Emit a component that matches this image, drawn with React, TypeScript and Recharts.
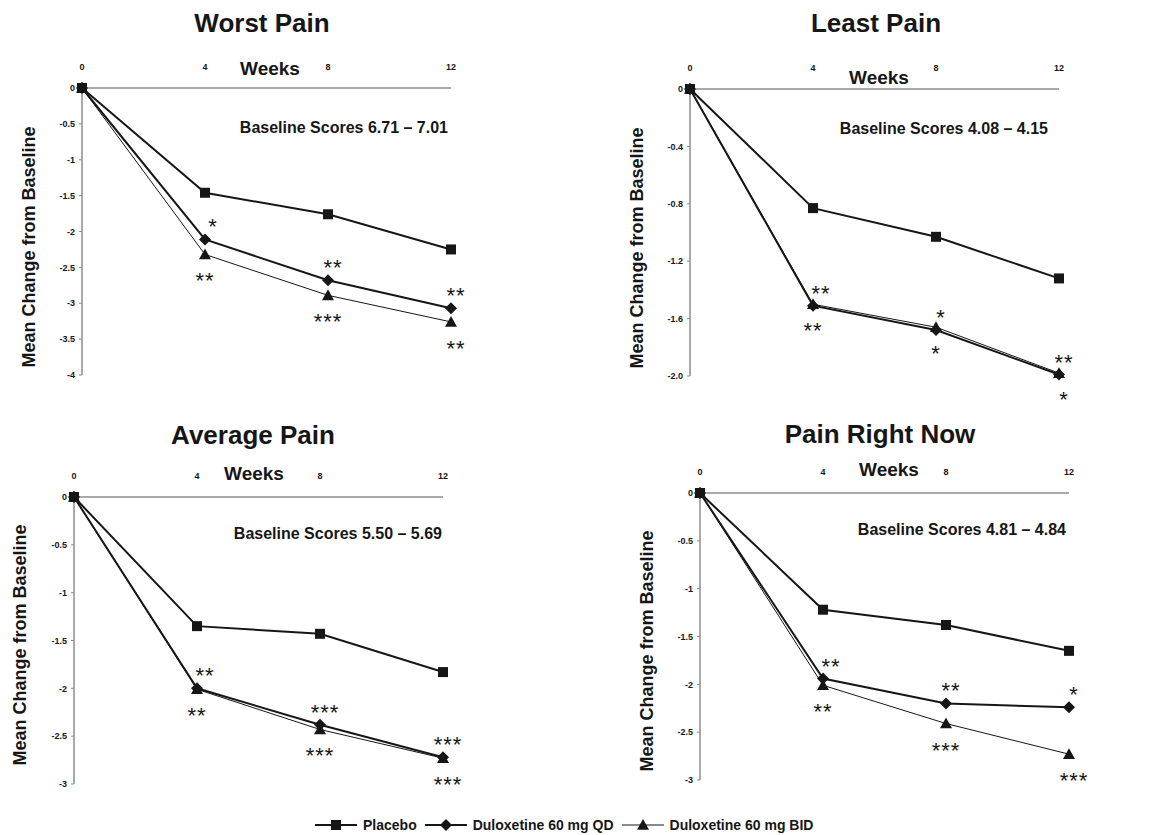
import { LineChart, Line, XAxis, YAxis } from 'recharts';

const weeks = [0, 4, 8, 12];

const worstPlacebo = [0, -1.46, -1.76, -2.25];
const worstQd = [0, -2.11, -2.68, -3.07];
const worstBid = [0, -2.32, -2.89, -3.26];
const worstQdStars = ['', '*', '**', '**'];
const worstBidStars = ['', '**', '***', '**'];
const worstTicks = [0, -0.5, -1, -1.5, -2, -2.5, -3, -3.5, -4];

const leastPlacebo = [0, -0.83, -1.03, -1.32];
const leastQd = [0, -1.51, -1.68, -1.99];
const leastBid = [0, -1.5, -1.66, -1.98];
const leastQdStars = ['', '**', '*', '**'];
const leastBidStars = ['', '**', '*', '*'];
const leastTicks = [0, -0.4, -0.8, -1.2, -1.6, -2.0];

const averagePlacebo = [0, -1.35, -1.43, -1.83];
const averageQd = [0, -2.0, -2.38, -2.72];
const averageBid = [0, -2.01, -2.43, -2.73];
const averageQdStars = ['', '**', '***', '***'];
const averageBidStars = ['', '**', '***', '***'];
const averageTicks = [0, -0.5, -1, -1.5, -2, -2.5, -3];

const nowPlacebo = [0, -1.22, -1.38, -1.65];
const nowQd = [0, -1.94, -2.2, -2.24];
const nowBid = [0, -2.01, -2.41, -2.73];
const nowQdStars = ['', '**', '**', '*'];
const nowBidStars = ['', '**', '***', '***'];
const nowTicks = [0, -0.5, -1, -1.5, -2, -2.5, -3];

const seriesNames = ['Placebo', 'Duloxetine 60 mg QD', 'Duloxetine 60 mg BID'];

const panels = [
  { title: 'Worst Pain', baseline: 'Baseline Scores 6.71 \u2013 7.01', placebo: worstPlacebo, qd: worstQd, bid: worstBid, qdStars: worstQdStars, bidStars: worstBidStars, ticks: worstTicks, oneDecimal: false },
  { title: 'Least Pain', baseline: 'Baseline Scores 4.08 \u2013 4.15', placebo: leastPlacebo, qd: leastQd, bid: leastBid, qdStars: leastQdStars, bidStars: leastBidStars, ticks: leastTicks, oneDecimal: true },
  { title: 'Average Pain', baseline: 'Baseline Scores 5.50 \u2013 5.69', placebo: averagePlacebo, qd: averageQd, bid: averageBid, qdStars: averageQdStars, bidStars: averageBidStars, ticks: averageTicks, oneDecimal: false },
  { title: 'Pain Right Now', baseline: 'Baseline Scores 4.81 \u2013 4.84', placebo: nowPlacebo, qd: nowQd, bid: nowBid, qdStars: nowQdStars, bidStars: nowBidStars, ticks: nowTicks, oneDecimal: false },
];

// plot origin + text anchors, page pixels
const layout = [
  { px: 82, py: 88, title: [262, 23], weeks: [270, 68], base: [448, 128], ylab: [29, 247] },
  { px: 690, py: 89, title: [876, 23], weeks: [879, 77], base: [1048, 129], ylab: [637, 248] },
  { px: 74, py: 497, title: [253, 435], weeks: [254, 473], base: [442, 534], ylab: [20, 645] },
  { px: 700, py: 493, title: [880, 434], weeks: [889, 469], base: [1066, 530], ylab: [647, 651] },
];

const INK = '#161616';
const AXIS = '#8c8c8c';
const FONT = '"Liberation Sans", Arial, sans-serif';
const PLOT_W = 369;
const PLOT_H = 287;
const starDx = [0, 8, 5, 5];

function Square({ cx, cy, s = 10 }: { cx: number; cy: number; s?: number }) {
  return <rect x={cx - s / 2} y={cy - s / 2} width={s} height={s} fill={INK} />;
}

function Diamond({ cx, cy, r = 6 }: { cx: number; cy: number; r?: number }) {
  return <polygon points={`${cx},${cy - r} ${cx + r},${cy} ${cx},${cy + r} ${cx - r},${cy}`} fill={INK} />;
}

function Triangle({ cx, cy, r = 6 }: { cx: number; cy: number; r?: number }) {
  return <polygon points={`${cx},${cy - r} ${cx + r},${cy + r * 0.8} ${cx - r},${cy + r * 0.8}`} fill={INK} />;
}

function Stars({ x, y, text }: { x: number; y: number; text: string }) {
  if (!text) return null;
  return (
    <text x={x} y={y + 12} textAnchor="middle" fontFamily={FONT} fontSize={22} letterSpacing={1} fill={INK}>
      {text}
    </text>
  );
}

function Panel({ panel, pos }: { panel: (typeof panels)[number]; pos: (typeof layout)[number] }) {
  const data = weeks.map((w, i) => ({
    week: w,
    placebo: panel.placebo[i],
    qd: panel.qd[i],
    bid: panel.bid[i],
    qdStars: panel.qdStars[i],
    bidStars: panel.bidStars[i],
  }));
  const lo = panel.ticks[panel.ticks.length - 1];
  const fmt = (v: number) => (v === 0 ? '0' : panel.oneDecimal ? v.toFixed(1) : String(v));
  const tickStyle = { fill: INK, fontSize: 9, fontWeight: 700, fontFamily: FONT };

  return (
    <div style={{ position: 'absolute', left: pos.px - 60, top: pos.py - 30 }}>
      <LineChart width={PLOT_W + 100} height={PLOT_H + 80} data={data} margin={{ top: 10, right: 40, bottom: 50, left: 20 }}>
        <XAxis
          type="number"
          dataKey="week"
          orientation="top"
          domain={[0, 12]}
          ticks={weeks}
          height={20}
          axisLine={{ stroke: AXIS, strokeWidth: 1.5 }}
          tickLine={false}
          tickMargin={12}
          tick={tickStyle}
        />
        <YAxis
          type="number"
          domain={[lo, 0]}
          ticks={panel.ticks}
          width={40}
          tickFormatter={fmt}
          axisLine={{ stroke: AXIS, strokeWidth: 1.5 }}
          tickLine={{ stroke: AXIS }}
          tickSize={3}
          tickMargin={4}
          tick={tickStyle}
        />
        <Line
          dataKey="bid"
          stroke={INK}
          strokeWidth={1}
          isAnimationActive={false}
          dot={(p: any) => (
            <g key={`b${p.index}`}>
              <Triangle cx={p.cx} cy={p.cy} />
              <Stars x={p.cx + (p.index === 3 ? 5 : 0)} y={p.cy + 22} text={p.payload.bidStars} />
            </g>
          )}
        />
        <Line
          dataKey="qd"
          stroke={INK}
          strokeWidth={2}
          isAnimationActive={false}
          dot={(p: any) => (
            <g key={`q${p.index}`}>
              <Diamond cx={p.cx} cy={p.cy} />
              <Stars x={p.cx + starDx[p.index]} y={p.cy - 17} text={p.payload.qdStars} />
            </g>
          )}
        />
        <Line
          dataKey="placebo"
          stroke={INK}
          strokeWidth={2}
          isAnimationActive={false}
          dot={(p: any) => <Square key={`p${p.index}`} cx={p.cx} cy={p.cy} />}
        />
      </LineChart>
    </div>
  );
}

function Txt({ at, size, children, anchor = 'center', rotate = false }: { at: number[]; size: number; children: string; anchor?: 'center' | 'right'; rotate?: boolean }) {
  const tx = anchor === 'right' ? '-100%' : '-50%';
  return (
    <div
      style={{
        position: 'absolute',
        left: at[0],
        top: at[1],
        transform: `translate(${tx}, -50%)${rotate ? ' rotate(-90deg)' : ''}`,
        fontSize: size,
        fontWeight: 700,
        lineHeight: 1,
        whiteSpace: 'nowrap',
        color: INK,
      }}
    >
      {children}
    </div>
  );
}

const legendMarks = [Square, Diamond, Triangle];

export default function App() {
  return (
    <div style={{ position: 'absolute', left: 0, top: 0, width: 1159, height: 835, background: '#fff', fontFamily: FONT }}>
      {panels.map((p, i) => (
        <Panel key={p.title} panel={p} pos={layout[i]} />
      ))}
      {panels.map((p, i) => (
        <div key={`t${i}`}>
          <Txt at={layout[i].title} size={26}>{p.title}</Txt>
          <Txt at={layout[i].weeks} size={19}>Weeks</Txt>
          <Txt at={layout[i].base} size={16} anchor="right">{p.baseline}</Txt>
          <Txt at={layout[i].ylab} size={18} rotate>Mean Change from Baseline</Txt>
        </div>
      ))}
      <div style={{ position: 'absolute', left: 315, top: 817, height: 16, display: 'flex', alignItems: 'center', gap: 8 }}>
        {seriesNames.map((name, i) => {
          const Mark = legendMarks[i];
          return (
            <div key={name} style={{ display: 'flex', alignItems: 'center', gap: 6, height: 16 }}>
              <svg width={42} height={16}>
                <line x1={0} y1={8} x2={42} y2={8} stroke={INK} strokeWidth={i === 2 ? 1 : 2} />
                <Mark cx={21} cy={8} />
              </svg>
              <span style={{ fontSize: 14, fontWeight: 700, lineHeight: '16px', color: INK }}>{name}</span>
            </div>
          );
        })}
      </div>
    </div>
  );
}
